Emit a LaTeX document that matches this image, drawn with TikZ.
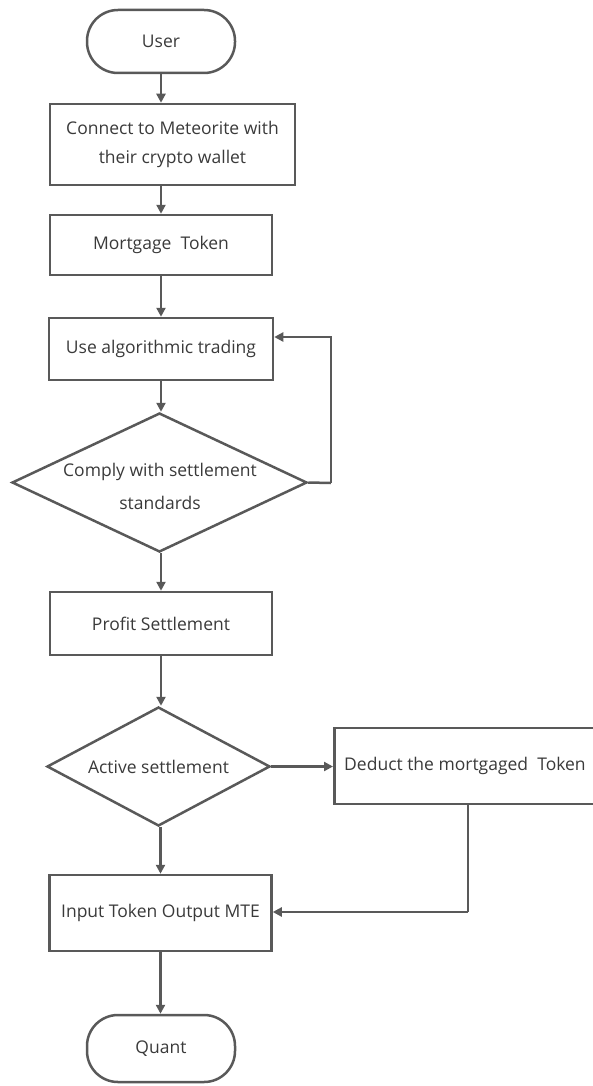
\documentclass[tikz,border=0pt]{standalone}
\usepackage{fontspec}
\setmainfont{Open Sans}
\usetikzlibrary{shapes.geometric,arrows.meta}
\definecolor{linegray}{HTML}{595959}
\definecolor{textgray}{HTML}{3A3A3A}
\begin{document}
\begin{tikzpicture}[x=1pt,y=-1pt,
  every node/.style={font=\fontsize{17.5}{29}\selectfont, text=textgray, inner sep=0pt},
  boxnode/.style={draw=linegray, line width=2.5pt, rectangle},
  termnode/.style={draw=linegray, line width=2.5pt, rectangle, rounded corners=31pt},
  decision/.style={draw=linegray, line width=2.5pt, diamond},
  flow/.style={draw=linegray, line width=2.5pt, -{Triangle[length=9pt,width=9pt]}},
  plainline/.style={draw=linegray, line width=2.5pt}]
\useasboundingbox (0,0) rectangle (593,1086);
\clip (0,0) rectangle (593,1086);

% main column
\node[termnode, minimum width=148pt, minimum height=63pt] (user) at (161,41.5) {User};
\node[boxnode, minimum width=245pt, minimum height=81pt, align=center] (connect) at (172.5,144.5)
  {Connect to Meteorite with\\their crypto wallet};
\node[boxnode, minimum width=222pt, minimum height=60pt] (mortgage) at (161,245) {Mortgage\ \ Token};
\node[boxnode, minimum width=224pt, minimum height=62pt] (algo) at (161,349) {Use algorithmic trading};
\node[decision, minimum width=295pt, minimum height=139pt] (comply) at (159.5,482.5) {};
\node[align=center, font=\fontsize{17.5}{33}\selectfont] (complylabel) at (160,486.5)
  {Comply with settlement\\standards};
\node[boxnode, minimum width=222pt, minimum height=63pt] (profit) at (161,623.5) {Profit Settlement};
\node[decision, minimum width=223pt, minimum height=119pt] (active) at (158.5,766.5) {};
\node (activelabel) at (active.center) {Active settlement};
\node[boxnode, minimum width=222pt, minimum height=76pt] (input) at (160.5,913) {Input Token Output MTE};
\node[termnode, minimum width=148pt, minimum height=67pt] (quant) at (161,1048.5) {Quant};

% side branch
\node[boxnode, minimum width=290pt, minimum height=76pt, anchor=west] (deduct) at (333,766) {};
\node[anchor=west] (deductlabel) at (344,766) {Deduct the mortgaged\ \ Token};
\coordinate (loopcorner) at (331,483);
\coordinate (dropcorner) at (468,912);

% connectors
\draw[flow] (user.south) -- (user.south |- connect.north);
\draw[flow] (mortgage.north |- connect.south) -- (mortgage.north);
\draw[flow] (mortgage.south) -- (algo.north);
\draw[flow] (algo.south) -- (algo.south |- comply.north);
\draw[plainline] (comply.east) -- (loopcorner);
\draw[flow] (loopcorner) |- (algo.north east |- 0,337);
\draw[flow] (profit.north |- comply.south) -- (profit.north);
\draw[flow] (profit.south) -- (profit.south |- active.north);
\draw[flow] (active.east) -- (deduct.west |- active.east);
\draw[flow] (active.south -| input.north) -- (input.north);
\draw[plainline] (dropcorner |- deduct.south) -- (dropcorner);
\draw[flow] (dropcorner) -- (input.east |- dropcorner);
\draw[flow] (input.south) -- (input.south |- quant.north);
\end{tikzpicture}
\end{document}
